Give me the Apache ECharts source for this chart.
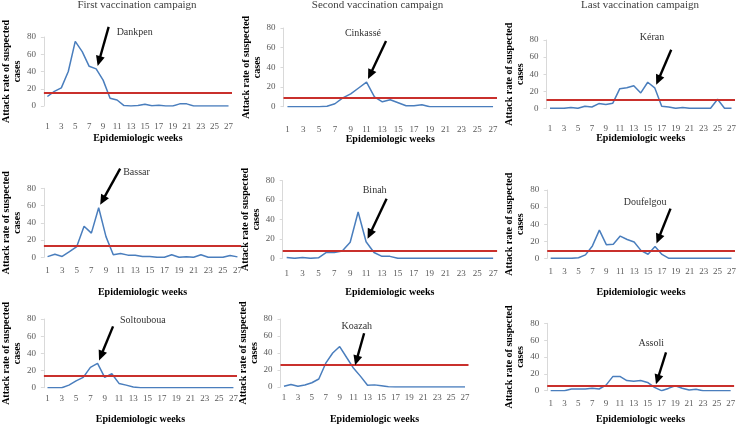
<!DOCTYPE html>
<html><head><meta charset="utf-8">
<script src="https://cdn.jsdelivr.net/npm/echarts@6/dist/echarts.min.js"></script>
<style>html,body{margin:0;padding:0;background:#fff}#c{width:739px;height:425px}</style>
</head><body><div id="c"></div>
<script>
// ---- data ----
const weeks = ['1','2','3','4','5','6','7','8','9','10','11','12','13','14','15','16','17','18','19','20','21','22','23','24','25','26','27'];
const yTicks = [0, 20, 40, 60, 80];
const campaigns = ['First vaccination campaign', 'Second vaccination campaign', 'Last vaccination campaign'];
const campaignWeek = [8, 11, 16];
const districts = ['Dankpen', 'Cinkassé', 'Kéran', 'Bassar', 'Binah', 'Doufelgou', 'Soltouboua', 'Koazah', 'Assoli'];
const dankpen    = [11,17,21,40,75,63,46,43,30,9,7,0.5,0,0.5,2,0.3,1,0,0,2.5,2.5,0,0,0,0,0,0];
const cinkasse   = [0,0,0,0,0,0.5,3,9,13,19,25,10,5,7,4,1,1,2,0,0,0,0,0,0,0,0,0];
const keran      = [0,0,0,1,0,2.5,1.5,5.5,4.5,6,23,24,26.5,18,30.5,24,2.5,1.5,0,1,0,0,0,0,10.5,0,0];
const bassar     = [0.8,3.5,1,6.5,12.5,36,28,57.5,24,3,4.5,2.5,2.5,1,1,0,0,3,0,0.5,0,3,0,0,0,2,0.5];
const binah      = [0.7,0,0.7,0,0.5,6,6,7.5,16.5,47.7,17,6,2,2,0,0,0,0,0,0,0,0,0,0,0,0,0];
const doufelgou  = [0,0,0,0,0.7,4,14.5,33,16,16.5,26,22,19,9,4.7,13.7,4.5,0,0,0,0,0,0,0,0,0,0];
const soltouboua = [0,0,0,3,8,12,23.7,28.3,12,16.3,5,3,0.8,0,0,0,0,0,0,0,0,0,0,0,0,0,0];
const koazah     = [1,3,1,2.3,5,9.4,28,40,47.6,34.7,22,12.5,2,2.5,1.5,0.4,0,0,0,0,0,0,0,0,0,0,0];
const assoli     = [0,0,0,2,2,2,3,2,6.6,17,17,12,11.3,12,9.8,4,0,2.7,5.9,3,0.8,1.6,0,0,0,0,0];
const thresholds = [15, 9, 10.5, 13, 8, 9.4, 14.4, 26, 5.9];
const seriesValues = [dankpen, cinkasse, keran, bassar, binah, doufelgou, soltouboua, koazah, assoli];

// ---- layout (pixels / styles) ----
const grids = [
  {left:43.5, top:37,    width:188.5, height:69},
  {left:283.5,top:28,    width:213.5, height:78.7},
  {left:546.5,top:40,    width:189.3, height:68.3},
  {left:41.3, top:188.3, width:199.8, height:69},
  {left:282.7,top:180.7, width:214.4, height:77.6},
  {left:547.2,top:190,   width:188.6, height:68.3},
  {left:39.7, top:319,   width:197.3, height:68.7},
  {left:280.5,top:319,   width:188,   height:68.3},
  {left:547.2,top:323.3, width:186.9, height:68.4}
];
const xLabelMargin = [16, 18, 15.5, 9, 10.5, 9, 6, 6.5, 8];
const xNameGap = [27, 25.6, 24, 30, 29, 29, 26.3, 27, 23.3];
const titleX = [137, 377.5, 640];
// arrow vector (tail relative to head) and label offset relative to tail
const arrowVec = [[11,-39],[18,-38],[15,-35],[20,-36],[19,-40],[14,-35],[14,-34],[9,-32],[10,-32]];
const labelOff = [[8,5,'left'],[-5,-8,'right'],[-7,-12,'right'],[3,4,'left'],[0,-8,'right'],[-4,-6,'right'],[7,-6,'left'],[8,-7,'right'],[-2,-9,'right']];

const FONT = 'Liberation Serif';
const BLUE = '#4a7ebd';
const RED = '#c9302c';

const option = {
  animation: false,
  backgroundColor: '#ffffff',
  title: campaigns.map((t, c) => ({
    text: t, left: titleX[c], top: 0, padding: 0, textAlign: 'center',
    textStyle: {fontFamily: FONT, fontSize: 11, fontWeight: 'normal', color: '#404040'}
  })),
  grid: grids.map(g => Object.assign({containLabel: false}, g)),
  xAxis: grids.map((g, i) => ({
    type: 'category', gridIndex: i, data: weeks, boundaryGap: true,
    axisLine: {show: false}, axisTick: {show: false},
    axisLabel: {interval: 1, fontFamily: FONT, fontSize: 9, color: '#595959', margin: xLabelMargin[i]},
    name: 'Epidemiologic weeks', nameLocation: 'middle', nameGap: xNameGap[i],
    nameTextStyle: {fontFamily: FONT, fontSize: 10, fontWeight: 'bold', color: '#000'}
  })),
  yAxis: grids.map((g, i) => ({
    type: 'value', gridIndex: i, min: yTicks[0], max: yTicks[yTicks.length - 1], interval: yTicks[1] - yTicks[0],
    axisLine: {show: true, lineStyle: {color: '#d9d9d9', width: 1}},
    axisTick: {show: true, length: 3, lineStyle: {color: '#d9d9d9'}},
    splitLine: {show: false},
    axisLabel: {fontFamily: FONT, fontSize: 9, color: '#595959', margin: 8},
    name: 'Attack rate of suspected\ncases', nameLocation: 'middle', nameGap: 15.5,
    nameTextStyle: {fontFamily: FONT, fontSize: 10, fontWeight: 'bold', color: '#000', lineHeight: 11}
  })),
  series: seriesValues.map((vals, i) => ({
    type: 'line', name: districts[i], xAxisIndex: i, yAxisIndex: i, data: vals,
    symbol: 'none', smooth: false,
    lineStyle: {color: BLUE, width: 1.5},
    markLine: {
      silent: true, symbol: 'none', label: {show: false},
      lineStyle: {color: RED, width: 2, type: 'solid'},
      data: [{yAxis: thresholds[i]}]
    }
  }))
};

const chart = echarts.init(document.getElementById('c'));
chart.setOption(option);

// arrows + district labels, placed from data through the axes
const graphics = [];
seriesValues.forEach((vals, i) => {
  const wk = campaignWeek[i % 3];
  const p = chart.convertToPixel({xAxisIndex: i, yAxisIndex: i}, [wk - 1, vals[wk - 1]]);
  const hx = p[0] + 1.5, hy = p[1] - 3;
  const tx = hx + arrowVec[i][0], ty = hy + arrowVec[i][1];
  const dx = hx - tx, dy = hy - ty, L = Math.hypot(dx, dy);
  const ux = dx / L, uy = dy / L, px = -uy, py = ux;
  const headLen = 10, headW = 4.5;
  const bx = hx - ux * headLen, by = hy - uy * headLen;
  graphics.push({type: 'line', shape: {x1: tx, y1: ty, x2: bx + ux, y2: by + uy},
    style: {stroke: '#000', lineWidth: 2.4}, z: 100, silent: true});
  graphics.push({type: 'polygon', shape: {points: [[hx, hy], [bx + px * headW, by + py * headW], [bx - px * headW, by - py * headW]]},
    style: {fill: '#000'}, z: 100, silent: true});
  const lo = labelOff[i];
  graphics.push({type: 'text', x: tx + lo[0], y: ty + lo[1], z: 100, silent: true,
    style: {text: districts[i], font: '10px "Liberation Serif"', fill: '#333', align: lo[2], verticalAlign: 'middle'}});
});
chart.setOption({graphic: graphics});
</script>
</body></html>
